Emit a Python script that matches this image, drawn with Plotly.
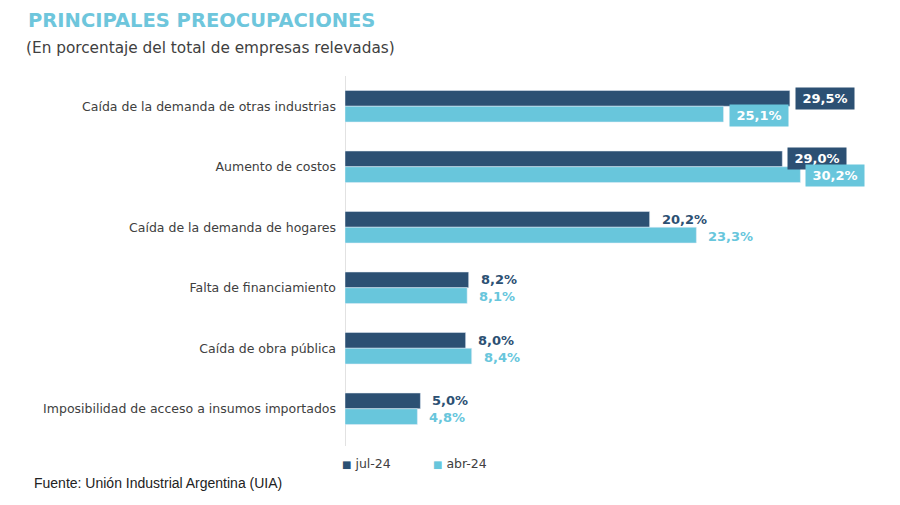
import plotly.graph_objects as go

categorias = [
    "Caída de la demanda de otras industrias",
    "Aumento de costos",
    "Caída de la demanda de hogares",
    "Falta de financiamiento",
    "Caída de obra pública",
    "Imposibilidad de acceso a insumos importados",
]
jul_24 = [29.5, 29.0, 20.2, 8.2, 8.0, 5.0]
abr_24 = [25.1, 30.2, 23.3, 8.1, 8.4, 4.8]
series_names = ["jul-24", "abr-24"]

DARK = "#2c5073"
LIGHT = "#68c6dc"
OFF = 8  # page body margin
W, H = 900 - 2 * OFF, 505 - 2 * OFF
ML, MR, MT, MB = 345 - OFF, W - (885 - OFF), 76 - OFF, H - (439 - OFF)
PW = W - ML - MR
PH = H - MT - MB


def px_x(px):
    return (px - OFF - ML) / PW


def px_y(py):
    return 1 - (py - OFF - MT) / PH


def fmt(v):
    return f"{v:.1f}%".replace(".", ",")


fig = go.Figure()
fig.add_trace(go.Bar(y=categorias, x=jul_24, orientation="h", name=series_names[0],
                     marker_color=DARK))
fig.add_trace(go.Bar(y=categorias, x=abr_24, orientation="h", name=series_names[1],
                     marker_color=LIGHT))

annotations = []
for i, cat in enumerate(categorias):
    boxed = max(jul_24[i], abr_24[i]) > 25
    for vals, col, ys in ((jul_24, DARK, 8), (abr_24, LIGHT, -9)):
        a = dict(x=vals[i], y=cat, xref="x", yref="y", text="<b>" + fmt(vals[i]) + "</b>",
                 showarrow=False, xanchor="left", yanchor="middle", yshift=ys,
                 font=dict(family="DejaVu Sans", size=13,
                           color="white" if boxed else col))
        if boxed:
            a.update(bgcolor=col, borderpad=3, xshift=5, width=52, align="center")
        else:
            a.update(xshift=10)
        annotations.append(a)

annotations.append(dict(x=px_x(26), y=px_y(20), xref="paper", yref="paper",
                        text="<b>PRINCIPALES PREOCUPACIONES</b>", showarrow=False,
                        xanchor="left", yanchor="middle",
                        font=dict(family="DejaVu Sans", size=19.5, color="#6ec6dc")))
annotations.append(dict(x=px_x(24), y=px_y(48), xref="paper", yref="paper",
                        text="(En porcentaje del total de empresas relevadas)", showarrow=False,
                        xanchor="left", yanchor="middle",
                        font=dict(family="DejaVu Sans", size=15.3, color="#404040")))
annotations.append(dict(x=px_x(32), y=px_y(483), xref="paper", yref="paper",
                        text="Fuente: Unión Industrial Argentina (UIA)", showarrow=False,
                        xanchor="left", yanchor="middle",
                        font=dict(family="Liberation Sans", size=14, color="#222222")))
for name, col, xp in ((series_names[0], DARK, 340), (series_names[1], LIGHT, 431)):
    annotations.append(dict(x=px_x(xp), y=px_y(463), xref="paper", yref="paper",
                            text=f"<span style='color:{col};font-size:10px'>■</span> {name}",
                            showarrow=False, xanchor="left", yanchor="middle",
                            font=dict(family="DejaVu Sans", size=12.5, color="#404040")))

fig.update_layout(
    width=W, height=H,
    margin=dict(l=ML, r=MR, t=MT, b=MB),
    paper_bgcolor="white", plot_bgcolor="white",
    barmode="group", bargap=0.48, bargroupgap=0.0,
    showlegend=False,
    annotations=annotations,
    shapes=[dict(type="line", xref="x", yref="paper", x0=0, x1=0,
                 y0=px_y(446), y1=px_y(76), line=dict(color="#d9d9d9", width=1.5),
                 layer="below")],
    xaxis=dict(range=[0, PW / 15.08], visible=False, showgrid=False, zeroline=False),
    yaxis=dict(autorange="reversed", showline=False,
               ticks="", ticklabelstandoff=8,
               tickfont=dict(family="DejaVu Sans", size=12.5, color="#404040")),
)

fig.write_html("out.html")
